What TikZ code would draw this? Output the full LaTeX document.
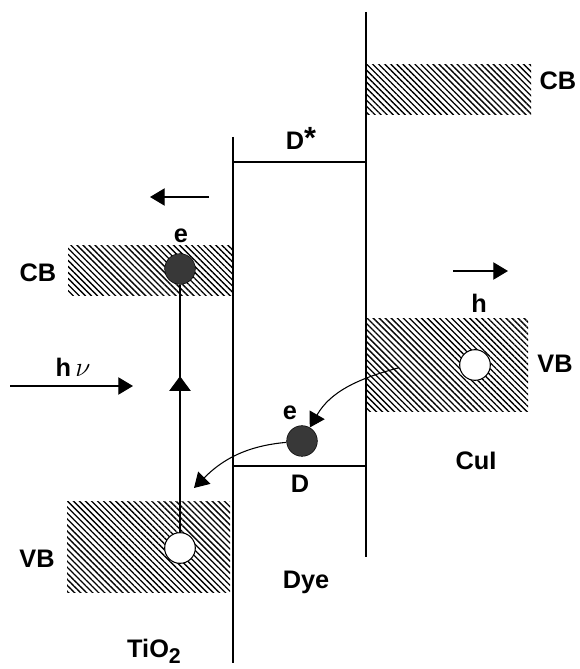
\documentclass[tikz,border=0pt]{standalone}
\usepackage{fontspec}
\setmainfont{Liberation Sans}
\usetikzlibrary{arrows.meta,patterns.meta,decorations.markings}

\begin{document}
\begin{tikzpicture}[x=0.75pt, y=0.75pt,
    >={Triangle[length=11pt,width=13pt]},
    lbl/.style={font=\bfseries\fontsize{19}{21}\selectfont, inner sep=0pt, anchor=base},
    band/.style={pattern={Lines[angle=-45,distance=3.2pt,line width=1pt]}},
    electron/.style={circle, draw=black, fill=black!78, minimum size=23pt, inner sep=0pt},
    hole/.style={circle, draw=black, line width=0.8pt, fill=white, minimum size=23pt, inner sep=0pt},
    midarrow/.style={decoration={markings, mark=at position 0.63 with {\arrow{Triangle[length=11pt,width=16pt]}}}, postaction={decorate}}]
    % ==== DEFINITIONS ====
    \def\xL{233} % left wall of the dye
    \def\xR{366} % right wall of the dye
    \useasboundingbox (0,0) rectangle (580,669);

    % ==== WALLS AND DYE LEVELS ====
    \draw[line width=1pt] (\xL,532) -- (\xL,6);
    \draw[line width=1pt] (\xR,657) -- (\xR,112);
    \draw[line width=0.9pt] (\xL,507) -- (\xR,507);
    \draw[line width=0.9pt] (\xL,203) -- (\xR,203);
    \node[lbl] (dstar) at (301,519) {D\raisebox{1pt}{\fontsize{23}{23}\selectfont *}};
    \node[lbl] (dlev) at (300,176) {D};
    \node[lbl] (dye) at (306,80) {Dye};

    % ==== BANDS ====
    \path[band] (367,554) rectangle (531,604);
    \path[band] (367,257) rectangle (528,350);
    \path[band] (68,373) rectangle (232,423);
    \path[band] (67,76) rectangle (230,167);
    \node[lbl] (cbCu) at (558,579) {CB};
    \node[lbl] (vbCu) at (555,296) {VB};
    \node[lbl] (cbTi) at (38,387) {CB};
    \node[lbl] (vbTi) at (37,101) {VB};
    \node[lbl] (cui) at (476,199) {CuI};
    \node[lbl] (tio) at (154,12) {TiO\raisebox{-5pt}{\fontsize{16}{16}\selectfont 2}};

    % ==== CARRIERS ====
    \node[electron] (eTi) at (180,400) {};
    \node[hole] (hTi) at (180,121) {};
    \node[electron] (eDye) at (302,228) {};
    \node[hole] (hCu) at (475,304) {};
    \node[lbl] at (181,426) {e};
    \node[lbl] at (290,249) {e};
    \node[lbl] at (479,356) {h};

    % ==== LIGHT AND TRANSFERS ====
    \coordinate (hvS) at (10,283);
    \coordinate (hvE) at (133,283);
    \draw[->, line width=0.8pt] (hvS) -- (hvE);
    \node[lbl] at (73,292) {h\,\fontsize{21}{21}\selectfont$\nu$};
    \draw[midarrow, line width=0.8pt] (hTi) -- (eTi);
    \coordinate (cuStart) at (398,301);
    \draw[->, line width=0.8pt] (cuStart) to[out=195,in=60] (eDye);
    \coordinate (tiTip) at (194,181);
    \draw[->, line width=0.8pt] (eDye) to[out=185,in=45] (tiTip);

    % ==== DRIFT ====
    \coordinate (leftS) at (209,472);
    \coordinate (leftE) at (150,472);
    \draw[->, line width=0.8pt] (leftS) -- (leftE);
    \coordinate (rightS) at (453,398);
    \coordinate (rightE) at (508,398);
    \draw[->, line width=0.8pt] (rightS) -- (rightE);

\end{tikzpicture}
\end{document}
